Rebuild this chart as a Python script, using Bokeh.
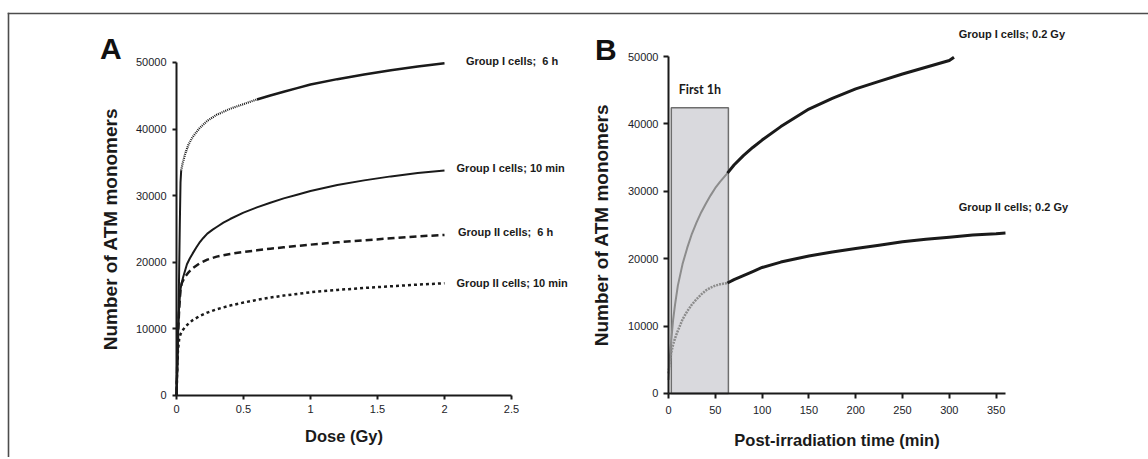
import numpy as np
from bokeh.plotting import figure
from bokeh.models import FixedTicker, Range1d, LinearAxis
from bokeh.layouts import row
from bokeh.embed import file_html
from bokeh.resources import INLINE
from bokeh.core.properties import value

# ---------------- Panel A data (dose response) ----------------
dose_gi6h = [0, 0.005, 0.01, 0.015, 0.02, 0.025, 0.03, 0.035, 0.045, 0.065, 0.09, 0.12, 0.17,
             0.23, 0.3, 0.4, 0.5, 0.6, 0.7, 0.8, 0.9, 1.0, 1.2, 1.4, 1.6, 1.8, 2.0]
atm_gi6h = [0, 3000, 7000, 12000, 19000, 26000, 32000, 33800, 34800, 36300, 37700, 38800, 40100,
            41250, 42150, 43050, 43750, 44450, 45050, 45600, 46150, 46700, 47500, 48200, 48850, 49400, 49900]

dose_gi10 = [0, 0.005, 0.01, 0.02, 0.03, 0.04, 0.05, 0.078, 0.1, 0.12, 0.15, 0.17, 0.2, 0.23, 0.27,
             0.3, 0.35, 0.4, 0.5, 0.6, 0.7, 0.8, 0.9, 1.0, 1.2, 1.4, 1.6, 1.8, 2.0]
atm_gi10 = [0, 5000, 9000, 13500, 16000, 17000, 17800, 19700, 20600, 21300, 22300, 22900, 23650,
            24300, 24900, 25300, 25950, 26500, 27450, 28250, 28950, 29600, 30150, 30700, 31600,
            32300, 32900, 33400, 33800]

dose_gii6h = [0, 0.005, 0.01, 0.02, 0.03, 0.04, 0.06, 0.09, 0.12, 0.17, 0.23, 0.3, 0.4, 0.5,
              0.6, 0.7, 0.8, 0.9, 1.0, 1.2, 1.4, 1.6, 1.8, 2.0]
atm_gii6h = [0, 4500, 8500, 13000, 16000, 16900, 17700, 18500, 19100, 19800, 20400, 20850, 21250, 21550,
             21800, 22050, 22250, 22450, 22650, 23000, 23300, 23600, 23900, 24100]

dose_gii10 = [0, 0.005, 0.01, 0.02, 0.03, 0.04, 0.06, 0.09, 0.12, 0.17, 0.23, 0.3, 0.4, 0.5,
              0.6, 0.7, 0.8, 0.9, 1.0, 1.2, 1.4, 1.6, 1.8, 2.0]
atm_gii10 = [0, 3500, 6500, 8500, 9200, 9600, 10200, 10800, 11300, 11900, 12450, 12950, 13500, 13950,
             14350, 14700, 15000, 15250, 15500, 15850, 16150, 16400, 16650, 16850]

labels_a = ["Group I cells;\u00a0\u00a06 h", "Group I cells; 10 min",
            "Group II cells;\u00a0\u00a06 h", "Group II cells; 10 min"]
ticks_a_x = [0, 0.5, 1, 1.5, 2, 2.5]
ticklabels_a_x = ["0", "0.5", "1", "1.5", "2", "2.5"]
ticks_y = [0, 10000, 20000, 30000, 40000, 50000]
ticklabels_y = ["0", "10000", "20000", "30000", "40000", "50000"]

# ---------------- Panel B data (time course) ----------------
t_gi = [0, 1, 2, 3, 5, 7, 10, 15, 20, 25, 30, 35, 40, 45, 50, 55, 63, 70, 80, 90, 100, 120,
        150, 175, 200, 225, 250, 275, 300, 305]
atm_t_gi = [2000, 4500, 6300, 8000, 11000, 13200, 16000, 19200, 21600, 23700, 25400, 26900, 28200,
            29400, 30500, 31400, 32700, 33900, 35300, 36500, 37600, 39600, 42200, 43800, 45200,
            46300, 47400, 48400, 49400, 49900]

t_gii = [0, 1, 2, 3, 5, 7, 10, 15, 20, 25, 30, 35, 40, 45, 50, 55, 63, 70, 80, 90, 100, 120,
         150, 175, 200, 225, 250, 275, 300, 325, 350, 360]
atm_t_gii = [3000, 4300, 5300, 6100, 7300, 8200, 9300, 11000, 12200, 13200, 14000, 14700, 15300,
             15700, 16000, 16200, 16400, 16900, 17500, 18100, 18700, 19500, 20400, 21000, 21500,
             22000, 22500, 22900, 23200, 23500, 23700, 23800]

labels_b = ["Group I cells; 0.2 Gy", "Group II cells; 0.2 Gy"]
first_hour = (3, 64)      # shaded window, min
first_hour_top = 42400
ticks_b_x = [0, 50, 100, 150, 200, 250, 300, 350]
ticklabels_b_x = ["0", "50", "100", "150", "200", "250", "300", "350"]

FONT = "Liberation Sans"
INK = "#1a1a1a"
FRAME = "#4d4d4d"


def frame_axis(p, side):
    ax = LinearAxis(ticker=FixedTicker(ticks=[]), axis_line_width=1.6, axis_line_color=FRAME,
                    axis_line_cap="square",
                    major_tick_line_color=None, minor_tick_line_color=None,
                    major_tick_out=0, major_tick_in=0, major_label_text_font_size="0px",
                    major_label_standoff=0, axis_label_standoff=0)
    p.add_layout(ax, side)


def style(p, xt, xl, xb, yb, xls, xas, yls, yas, tick_out):
    p.grid.visible = False
    p.outline_line_color = None
    p.background_fill_color = "white"
    p.border_fill_color = "white"
    for ax in (p.xaxis[0], p.yaxis[0]):
        ax.fixed_location = 0
        ax.axis_line_width = 2
        ax.axis_line_color = INK
        ax.major_tick_line_width = 2
        ax.major_tick_line_color = INK
        ax.major_tick_out = tick_out
        ax.major_tick_in = 0
        ax.minor_tick_line_color = None
        ax.major_label_text_font = FONT
        ax.major_label_text_font_size = "11px"
        ax.major_label_text_color = "#1c1c28"
        ax.axis_label_text_font = FONT
        ax.axis_label_text_font_style = "bold"
        ax.axis_label_text_color = INK
    p.xaxis[0].ticker = FixedTicker(ticks=xt)
    p.xaxis[0].major_label_overrides = {t: l for t, l in zip(xt, xl)}
    p.yaxis[0].ticker = FixedTicker(ticks=ticks_y)
    p.yaxis[0].major_label_overrides = {t: l for t, l in zip(ticks_y, ticklabels_y)}
    p.xaxis[0].bounds = xb
    p.yaxis[0].bounds = yb
    p.xaxis[0].major_label_standoff = xls
    p.xaxis[0].axis_label_standoff = xas
    p.yaxis[0].major_label_standoff = yls
    p.yaxis[0].axis_label_standoff = yas
    p.xaxis[0].axis_label_text_font_size = "16.5px"
    p.yaxis[0].axis_label_text_font_size = "19px"


# ---------------- Panel A ----------------
pA = figure(width=578, height=457, output_backend="svg", toolbar_location=None,
            x_range=Range1d(-1.2537, 3.0), y_range=Range1d(-9310, 57357),
            min_border_left=8, min_border_right=0, min_border_top=13, min_border_bottom=0,
            x_axis_label="Dose (Gy)", y_axis_label="Number of ATM monomers")
style(pA, ticks_a_x, ticklabels_a_x, (0, 2.5), (0, 50000), 6, 10, 6, 12, 4)
frame_axis(pA, "above")
frame_axis(pA, "left")

d6 = np.array(dose_gi6h)
a6 = np.array(atm_gi6h)
m1 = d6 <= 0.035
m2 = (d6 >= 0.035) & (d6 <= 0.6)
m3 = d6 >= 0.6
pA.line(d6[m1], a6[m1], line_color=INK, line_width=2)
pA.line(d6[m2], a6[m2], line_color=INK, line_width=2.2, line_dash="1 1")
pA.line(d6[m3], a6[m3], line_color=INK, line_width=2.5)
pA.line(dose_gi10, atm_gi10, line_color=INK, line_width=2)
pA.line(dose_gii6h, atm_gii6h, line_color=INK, line_width=2.5, line_dash="7 4")
pA.line(dose_gii10, atm_gii10, line_color=INK, line_width=2.5, line_dash="3 3")

ends_a = [atm_gi6h[-1], atm_gi10[-1], atm_gii6h[-1], atm_gii10[-1]]
pA.text(x=[2.16, 2.09, 2.10, 2.09],
        y=[ends_a[0] + 300, ends_a[1] + 300, ends_a[2] + 500, ends_a[3]],
        text=labels_a, text_font=value(FONT), text_font_style="bold",
        text_font_size="11px", text_baseline="middle", text_align="left", text_color=INK)
pA.text(x=[-0.49], y=[52100], text=["A"], text_font=value(FONT), text_font_style="bold",
        text_font_size="30px", text_align="center", text_baseline="middle", text_color="#111111")

# ---------------- Panel B ----------------
pB = figure(width=570, height=457, output_backend="svg", toolbar_location=None,
            x_range=Range1d(-96.14, 512.8), y_range=Range1d(-9496, 56380),
            min_border_left=0, min_border_right=0, min_border_top=13, min_border_bottom=0,
            x_axis_label="Post-irradiation time (min)", y_axis_label="Number of ATM monomers")
style(pB, ticks_b_x, ticklabels_b_x, (0, 360), (0, 50000), 8, 13, 5, 13, 5)
frame_axis(pB, "above")

pB.quad(left=[first_hour[0]], right=[first_hour[1]], bottom=[0], top=[first_hour_top],
        fill_color="#d9d9dd", line_color="#6e6e6e", line_width=1.5)

tg = np.array(t_gi)
ag = np.array(atm_t_gi)
tq = np.array(t_gii)
aq = np.array(atm_t_gii)
end_h = first_hour[1] - 1
pB.line(tg[tg <= end_h], ag[tg <= end_h], line_color="#8c8c8c", line_width=2)
pB.line(tg[tg >= end_h], ag[tg >= end_h], line_color=INK, line_width=3)
pB.line(tq[tq <= end_h], aq[tq <= end_h], line_color="#8c8c8c", line_width=2.5, line_dash="2 1")
pB.line(tq[tq >= end_h], aq[tq >= end_h], line_color=INK, line_width=3)

pB.text(x=[310, 310], y=[53370, 27640], text=labels_b, text_font=value(FONT),
        text_font_style="bold", text_font_size="11px", text_baseline="middle",
        text_align="left", text_color=INK)
pB.text(x=[(first_hour[0] + first_hour[1]) / 2], y=[45060], text=["First 1h"],
        text_font=value("Lato"), text_font_style="bold", text_font_size="12.5px",
        text_baseline="middle", text_align="center", text_color="#1a1a1a")
pB.text(x=[-67], y=[51040], text=["B"], text_font=value(FONT), text_font_style="bold",
        text_font_size="30px", text_align="center", text_baseline="middle", text_color="#111111")

layout = row(pA, pB)
open("out.html", "w").write(file_html(layout, INLINE))
